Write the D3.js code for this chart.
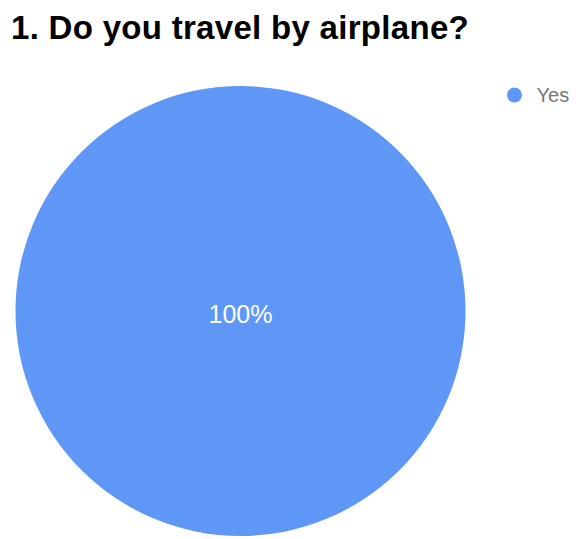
<!DOCTYPE html>
<html>
<head>
<meta charset="utf-8">
<script src="https://cdn.jsdelivr.net/npm/d3@7"></script>
<style>
  html, body { margin: 0; padding: 0; background: #fff; }
  svg { display: block; }
</style>
</head>
<body>
<svg id="chart" width="579" height="539"></svg>
<script>
// Survey answers and their counts
const answers = ["Yes"];
const counts = [1];
const sliceColors = ["#5e97f6"];
const titleText = "1. Do you travel by airplane?";

const svg = d3.select("#chart");
const cx = 240.5, cy = 311, radius = 225;

const data = answers.map((a, i) => ({ answer: a, count: counts[i] }));
const total = d3.sum(counts);

const color = d3.scaleOrdinal().domain(answers).range(sliceColors);
const pie = d3.pie().value(d => d.count).sort(null);
const arc = d3.arc().innerRadius(0).outerRadius(radius);

// Title
svg.append("text")
  .attr("x", 11)
  .attr("y", 39)
  .attr("font-family", "Liberation Sans, Arial, sans-serif")
  .attr("font-size", 33)
  .attr("font-weight", "bold")
  .attr("letter-spacing", 0.3)
  .attr("fill", "#000")
  .text(titleText);

// Pie slices
const g = svg.append("g").attr("transform", `translate(${cx},${cy})`);
const arcs = pie(data);
g.selectAll("path.slice")
  .data(arcs)
  .join("path")
  .attr("class", "slice")
  .attr("d", arc)
  .attr("fill", d => color(d.data.answer));

// Percentage labels (a full circle puts its label at the centre)
g.selectAll("text.pct")
  .data(arcs)
  .join("text")
  .attr("class", "pct")
  .attr("transform", d => {
    const full = d.endAngle - d.startAngle >= 2 * Math.PI - 1e-6;
    const p = full ? [0, 0] : d3.arc().innerRadius(radius * 0.6).outerRadius(radius * 0.6).centroid(d);
    return `translate(${p[0]},${p[1]})`;
  })
  .attr("dy", 12)
  .attr("text-anchor", "middle")
  .attr("font-family", "Liberation Sans, Arial, sans-serif")
  .attr("font-size", 25)
  .attr("fill", "#fff")
  .text(d => Math.round(d.data.count / total * 100) + "%");

// Legend
const legend = svg.append("g").attr("transform", "translate(514.5,95)");
const items = legend.selectAll("g.item")
  .data(answers)
  .join("g")
  .attr("class", "item")
  .attr("transform", (d, i) => `translate(0,${i * 30})`);
items.append("circle")
  .attr("r", 7.5)
  .attr("fill", d => color(d));
items.append("text")
  .attr("x", 22)
  .attr("y", 7)
  .attr("font-family", "Liberation Sans, Arial, sans-serif")
  .attr("font-size", 20)
  .attr("fill", "#777")
  .text(d => d);
</script>
</body>
</html>
